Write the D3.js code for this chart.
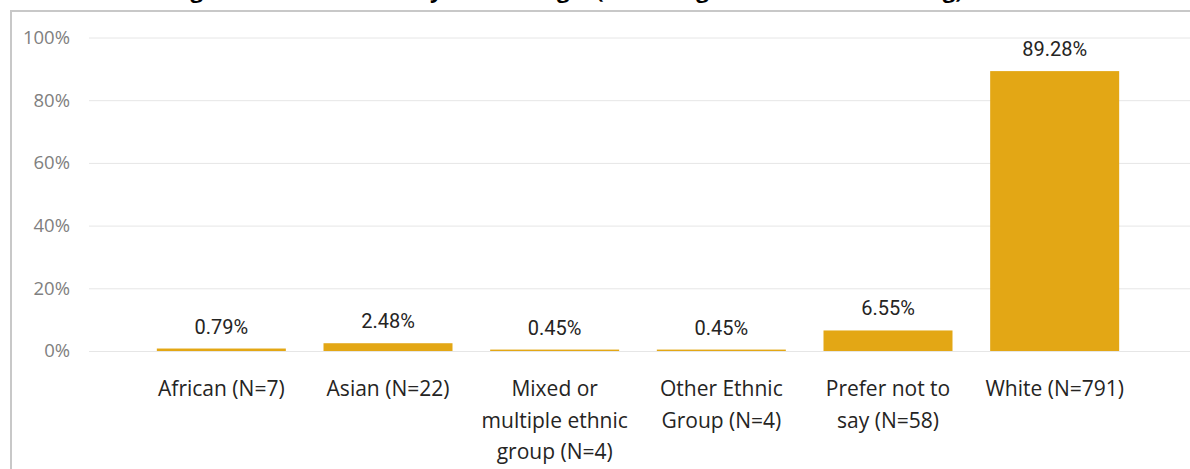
<!DOCTYPE html>
<html>
<head>
<meta charset="utf-8">
<script src="https://cdn.jsdelivr.net/npm/d3@7"></script>
<style>
  html, body { margin: 0; padding: 0; background: #fff; }
  svg { display: block; }
</style>
</head>
<body>
<svg id="chart"></svg>
<script>
const categories = [
  "African (N=7)",
  "Asian (N=22)",
  "Mixed or multiple ethnic group (N=4)",
  "Other Ethnic Group (N=4)",
  "Prefer not to say (N=58)",
  "White (N=791)"
];
const percentages = [0.79, 2.48, 0.45, 0.45, 6.55, 89.28];
const yTicks = [0, 20, 40, 60, 80, 100];
const title = "Percentage of Staff Members by Ethnic Origin (Excluding Not Known or Missing)";

const width = 1190, height = 469;
const svg = d3.select("#chart").attr("width", width).attr("height", height);

const x = d3.scaleBand()
  .domain(categories)
  .range([138, 1138])
  .paddingInner(0.226)
  .paddingOuter(0.113);

const y = d3.scaleLinear()
  .domain([0, 100])
  .range([351, 37.5]);

// title, cut off by the top of the visual
svg.append("text")
  .attr("x", 92)
  .attr("y", -2)
  .style("font-family", "'Segoe UI', 'Open Sans', sans-serif")
  .style("font-weight", "bold")
  .style("font-size", "22px")
  .attr("fill", "#000")
  .text(title);

// frame of the visual
svg.append("line")
  .attr("x1", 10).attr("x2", width).attr("y1", 11).attr("y2", 11)
  .attr("stroke", "#c8c8c8").attr("stroke-width", 2);
svg.append("line")
  .attr("x1", 11).attr("x2", 11).attr("y1", 10).attr("y2", height)
  .attr("stroke", "#c8c8c8").attr("stroke-width", 2);

// gridlines + y labels
const yAxis = svg.append("g")
  .attr("transform", "translate(89,0)")
  .call(d3.axisLeft(y).tickValues(yTicks).tickSize(-(width - 89)).tickPadding(19).tickFormat(d => d + "%"));
yAxis.select(".domain").remove();
yAxis.selectAll(".tick line").attr("stroke", "#e6e6e6").attr("stroke-width", 1);
yAxis.selectAll(".tick text")
  .attr("fill", "#808080")
  .style("font-family", "'Segoe UI', 'Open Sans', sans-serif")
  .style("font-size", "18.5px");

// bars
svg.append("g")
  .selectAll("rect")
  .data(percentages)
  .join("rect")
  .attr("x", (d, i) => x(categories[i]))
  .attr("width", x.bandwidth())
  .attr("y", d => y(d))
  .attr("height", d => y(0) - y(d))
  .attr("fill", "#e3a715");

// data labels
svg.append("g")
  .selectAll("text")
  .data(percentages)
  .join("text")
  .attr("x", (d, i) => x(categories[i]) + x.bandwidth() / 2)
  .attr("y", d => y(d) - 15)
  .attr("text-anchor", "middle")
  .attr("fill", "#252423")
  .style("font-family", "Roboto, sans-serif")
  .style("font-size", "20px")
  .text(d => d.toFixed(2) + "%");

// category labels, wrapped to the band
const xAxis = svg.append("g")
  .attr("transform", `translate(0,${y(0)})`)
  .call(d3.axisBottom(x).tickSize(0).tickPadding(0));
xAxis.select(".domain").remove();
xAxis.selectAll(".tick text")
  .attr("dy", null)
  .attr("fill", "#252423")
  .style("font-family", "'Segoe UI', 'Open Sans', sans-serif")
  .style("font-size", "21px")
  .call(wrap, 158);

function wrap(texts, maxWidth) {
  texts.each(function () {
    const t = d3.select(this);
    const words = t.text().split(" ");
    t.text(null).attr("y", null);
    let line = [];
    let n = 0;
    let tspan = t.append("tspan").attr("x", 0).attr("y", 45);
    for (const w of words) {
      line.push(w);
      tspan.text(line.join(" "));
      if (tspan.node().getComputedTextLength() > maxWidth && line.length > 1) {
        line.pop();
        tspan.text(line.join(" "));
        line = [w];
        n++;
        tspan = t.append("tspan").attr("x", 0).attr("y", 45 + n * 31.5).text(w);
      }
    }
  });
}
</script>
</body>
</html>
